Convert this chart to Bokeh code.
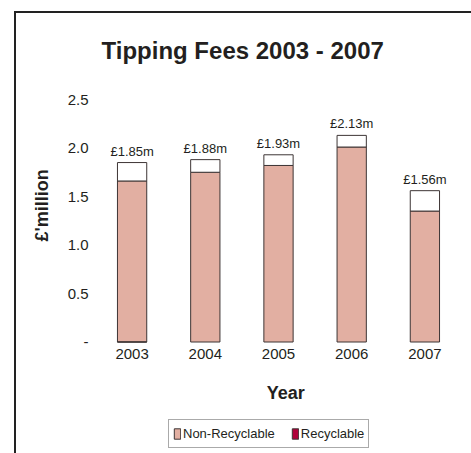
from bokeh.plotting import figure
from bokeh.models import (Range1d, FixedTicker, Legend, LegendItem,
                          ColumnDataSource, Title, Label)
from bokeh.embed import file_html
from bokeh.resources import INLINE
from bokeh.core.properties import value

years = ["2003", "2004", "2005", "2006", "2007"]
non_recyclable = [1.66, 1.75, 1.82, 2.01, 1.35]
recyclable = [0.19, 0.13, 0.11, 0.12, 0.21]
y_ticks = [0, 0.5, 1.0, 1.5, 2.0, 2.5]
y_tick_labels = ["-", "0.5", "1.0", "1.5", "2.0", "2.5"]

totals = [round(a + b, 2) for a, b in zip(non_recyclable, recyclable)]
labels = ["£%.2fm" % t for t in totals]

FONT = "Liberation Sans"
TXT = "#231F20"
FILL = "#E2AFA2"
EDGE = "#3D3535"

src = ColumnDataSource(dict(year=years, nr=non_recyclable, r=recyclable,
                            total=totals, label=labels))

# frame extends below the zero line so that the axis title and legend sit inside it
FRAME_H = 351
Y_TOP = 2.5
Y_BOTTOM = Y_TOP - FRAME_H / 97.0

p = figure(x_range=years, y_range=Range1d(Y_BOTTOM, Y_TOP),
           width=455, height=440, frame_width=366, frame_height=FRAME_H,
           min_border_left=79, min_border_right=10, min_border_top=86,
           min_border_bottom=3,
           output_backend="svg", toolbar_location=None)
p.styles = {"border-top": "2px solid #222222", "border-left": "2px solid #222222",
            "margin-left": "14px", "margin-top": "11px"}
p.outline_line_color = None
p.xgrid.grid_line_color = None
p.ygrid.grid_line_color = None
p.x_range.range_padding = 0

r_stack = p.vbar_stack(["nr", "r"], x="year", width=0.4, source=src,
                       fill_color=[FILL, "white"], line_color=EDGE, line_width=1)

p.text(x="year", y="total", text="label", source=src, text_align="center",
       text_baseline="bottom", y_offset=-4, text_font=value(FONT),
       text_font_size="13px", text_color=TXT)

# legend proxy for the "Recyclable" swatch (zero-height, sits on the baseline)
proxy = p.vbar(x=[years[0]], top=[0], bottom=[0], width=0.4,
               fill_color="#B0003A", line_color=EDGE)

for ax in (p.xaxis[0], p.yaxis[0]):
    ax.axis_line_color = None
    ax.major_tick_line_color = None
    ax.minor_tick_line_color = None
    ax.major_tick_out = 0
    ax.major_tick_in = 0
    ax.major_label_text_font = FONT
    ax.major_label_text_font_size = "15px"
    ax.major_label_text_color = TXT
p.yaxis.ticker = FixedTicker(ticks=y_ticks)
p.yaxis.major_label_overrides = {t: l for t, l in zip(y_ticks, y_tick_labels)}
p.yaxis.major_label_standoff = 7
p.xaxis.major_label_standoff = 7
p.xaxis.fixed_location = 0

# spacer between frame and main title
p.add_layout(Title(text=" ", text_font_size="2px", standoff=30), "above")

p.title.text = "Tipping Fees 2003 - 2007"
p.title.align = "left"
p.title.offset = 6
p.title.standoff = 4
p.title.text_font = FONT
p.title.text_font_size = "24px"
p.title.text_font_style = "bold"
p.title.text_color = TXT

p.add_layout(Title(text="£'million", align="left", offset=101 + (FRAME_H - 243),
                   standoff=26, text_font=FONT, text_font_size="18px",
                   text_font_style="bold", text_color=TXT), "left")

p.add_layout(Label(x=2.6, y=-0.53, text="Year", text_align="center",
                   text_baseline="middle", text_font=FONT, text_font_size="18px",
                   text_font_style="bold", text_color=TXT))

legend = Legend(items=[LegendItem(label="Non-Recyclable", renderers=[r_stack[0]]),
                       LegendItem(label="Recyclable", renderers=[proxy])],
                location=(73, 2), orientation="horizontal",
                glyph_width=8, glyph_height=13, label_standoff=2, spacing=16,
                padding=4, label_height=19, margin=0,
                label_text_font=FONT, label_text_font_size="13px",
                label_text_color=TXT, border_line_color="#555555",
                border_line_width=1, background_fill_alpha=1)
p.add_layout(legend, "center")

open("out.html", "w").write(file_html(p, INLINE))
